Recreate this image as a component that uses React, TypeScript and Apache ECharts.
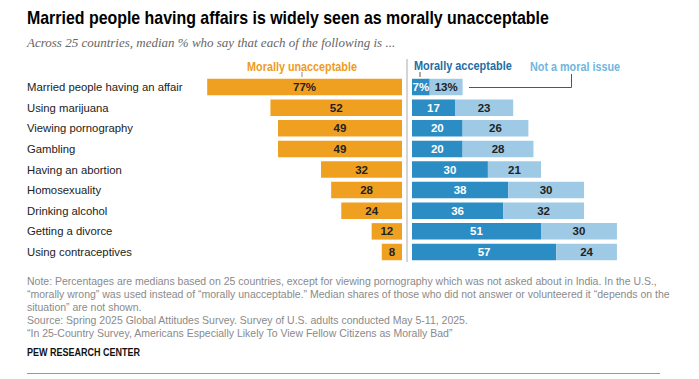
import React, { useEffect, useRef } from "react";
import * as echarts from "echarts";

const categories = [
  "Married people having an affair",
  "Using marijuana",
  "Viewing pornography",
  "Gambling",
  "Having an abortion",
  "Homosexuality",
  "Drinking alcohol",
  "Getting a divorce",
  "Using contraceptives",
];
const unacceptable = [77, 52, 49, 49, 32, 28, 24, 12, 8];
const acceptable = [7, 17, 20, 20, 30, 38, 36, 51, 57];
const notMoral = [13, 23, 26, 28, 21, 30, 32, 30, 24];

const titleText = "Married people having affairs is widely seen as morally unacceptable";
const subtitleText = "Across 25 countries, median % who say that each of the following is ...";
const noteLines = [
  "Note: Percentages are medians based on 25 countries, except for viewing pornography which was not asked about in India. In the U.S.,",
  "\u201Cmorally wrong\u201D was used instead of \u201Cmorally unacceptable.\u201D Median shares of those who did not answer or volunteered it \u201Cdepends on the",
  "situation\u201D are not shown.",
  "Source: Spring 2025 Global Attitudes Survey. Survey of U.S. adults conducted May 5-11, 2025.",
  "\u201CIn 25-Country Survey, Americans Especially Likely To View Fellow Citizens as Morally Bad\u201D",
];

const ORANGE = "#F0A020";
const DARK_BLUE = "#2B8DC3";
const LIGHT_BLUE = "#9ECAE6";
const FONT = "'Liberation Sans', Arial, sans-serif";
const FONT_REG = "'Liberation Sans', Arial, sans-serif";

export default function App() {
  const ref = useRef<HTMLDivElement>(null);
  useEffect(() => {
    if (!ref.current) return;
    const chart = echarts.init(ref.current, undefined, { renderer: "svg" });
    const fmt = (p: any) => (p.dataIndex === 0 ? p.value + "%" : String(p.value));
    const noteTexts = noteLines.map((t, i) => ({
      type: "text",
      x: 27,
      y: 281 + i * 12.9,
      style: {
        text: t,
        font: `10.5px ${FONT_REG}`,
        fill: "#8a8a8a",
        textVerticalAlign: "middle",
      },
    }));
    const barLabel = (color: string) => ({
      show: true,
      position: "inside",
      formatter: fmt,
      color,
      fontWeight: "bold",
      fontSize: 11.5,
      fontFamily: FONT_REG,
    });
    chart.setOption({
      animation: false,
      grid: [
        { left: 199.6, width: 202.4, top: 76.7, height: 185.6 },
        { left: 412, width: 227.7, top: 76.7, height: 185.6 },
      ],
      xAxis: [
        { gridIndex: 0, type: "value", min: 0, max: 80, inverse: true, show: false },
        { gridIndex: 1, type: "value", min: 0, max: 90, show: false },
      ],
      yAxis: [
        {
          gridIndex: 0,
          type: "category",
          data: categories,
          inverse: true,
          axisLine: { show: false },
          axisTick: { show: false },
          axisLabel: {
            align: "left",
            margin: 172.6,
            fontSize: 11.3,
            color: "#222",
            fontFamily: FONT_REG,
          },
        },
        {
          gridIndex: 1,
          type: "category",
          data: categories,
          inverse: true,
          show: false,
        },
      ],
      series: [
        {
          type: "bar",
          xAxisIndex: 0,
          yAxisIndex: 0,
          data: unacceptable,
          barWidth: 16.5,
          itemStyle: { color: ORANGE },
          label: barLabel("#222"),
        },
        {
          type: "bar",
          xAxisIndex: 1,
          yAxisIndex: 1,
          stack: "r",
          data: acceptable,
          barWidth: 16.5,
          itemStyle: { color: DARK_BLUE },
          label: barLabel("#fff"),
        },
        {
          type: "bar",
          xAxisIndex: 1,
          yAxisIndex: 1,
          stack: "r",
          data: notMoral,
          barWidth: 16.5,
          itemStyle: { color: LIGHT_BLUE },
          label: barLabel("#222"),
        },
      ],
      graphic: [
        {
          type: "text",
          x: 27,
          y: 18.3,
          scaleX: 0.91,
          style: {
            text: titleText,
            font: `bold 17.5px ${FONT}`,
            fill: "#000",
            textVerticalAlign: "middle",
          },
        },
        {
          type: "text",
          x: 27,
          y: 42,
          style: {
            text: subtitleText,
            font: `italic 13px 'Liberation Serif', 'DejaVu Serif', serif`,
            fill: "#666",
            textVerticalAlign: "middle",
          },
        },
        {
          type: "text",
          x: 302,
          y: 65.7,
          scaleX: 0.865,
          style: {
            text: "Morally unacceptable",
            font: `bold 12.5px ${FONT}`,
            fill: "#EE9B22",
            textAlign: "center",
            textVerticalAlign: "middle",
          },
        },
        {
          type: "text",
          x: 414,
          y: 65.7,
          scaleX: 0.875,
          style: {
            text: "Morally acceptable",
            font: `bold 12.5px ${FONT}`,
            fill: "#226EA5",
            textVerticalAlign: "middle",
          },
        },
        {
          type: "text",
          x: 530,
          y: 65.7,
          scaleX: 0.865,
          style: {
            text: "Not a moral issue",
            font: `bold 12.5px ${FONT}`,
            fill: "#6FB6E0",
            textVerticalAlign: "middle",
          },
        },
        { type: "line", shape: { x1: 407, y1: 59, x2: 407, y2: 262 }, style: { stroke: "#aaa", lineWidth: 1 } },
        { type: "line", shape: { x1: 302, y1: 72, x2: 302, y2: 77 }, style: { stroke: "#888", lineWidth: 1 } },
        { type: "line", shape: { x1: 420, y1: 72, x2: 420, y2: 77 }, style: { stroke: "#555", lineWidth: 1 } },
        {
          type: "polyline",
          shape: { points: [[571.5, 74], [571.5, 87.5], [469, 87.5]] },
          style: { stroke: "#555", lineWidth: 1, fill: "none" },
        },
        ...noteTexts,
        {
          type: "text",
          x: 27,
          y: 352,
          scaleX: 0.82,
          style: {
            text: "PEW RESEARCH CENTER",
            font: `bold 11px ${FONT}`,
            fill: "#111",
            textVerticalAlign: "middle",
          },
        },
        { type: "line", shape: { x1: 27, y1: 373.5, x2: 660, y2: 373.5 }, style: { stroke: "#999", lineWidth: 1 } },
      ],
    });
    return () => chart.dispose();
  }, []);
  return (
    <div
      ref={ref}
      style={{ position: "absolute", left: 0, top: 0, width: 699, height: 379 }}
    />
  );
}
